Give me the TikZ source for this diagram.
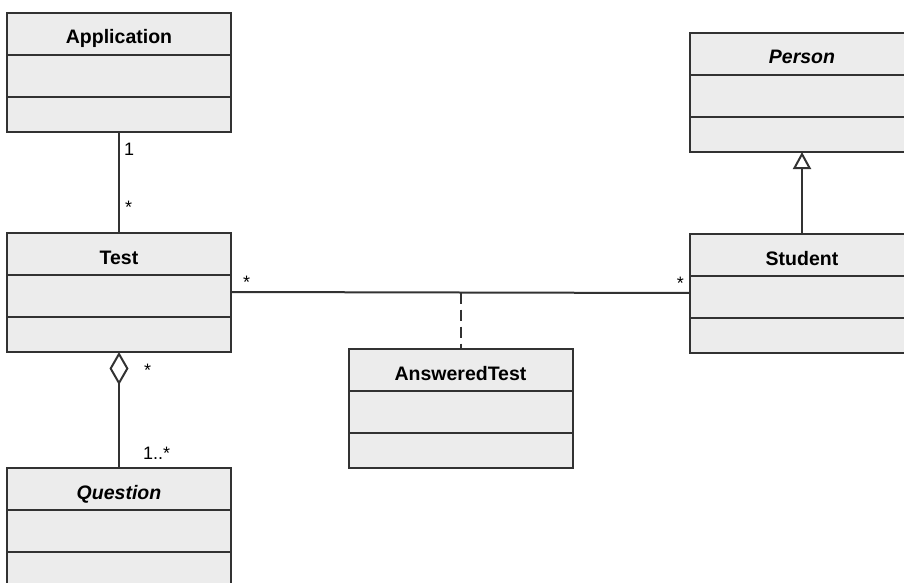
\documentclass[tikz,border=0pt]{standalone}
\usepackage{fontspec}
\setmainfont{Liberation Sans}
\usepackage{tikz}
\usetikzlibrary{arrows.meta}
\usetikzlibrary{positioning}
\definecolor{boxfill}{RGB}{236,236,236}
\definecolor{boxline}{RGB}{50,50,50}
\tikzstyle{classtitle}=[rectangle,draw=boxline,fill=boxfill,line width=2pt,outer sep=0pt,minimum width=224pt,minimum height=42pt,inner sep=0pt,text height=20pt,text depth=0pt,font=\fontsize{19.5}{20}\selectfont\bfseries]
\tikzstyle{classattr}=[rectangle,draw=boxline,fill=boxfill,line width=2pt,outer sep=0pt,minimum width=224pt,minimum height=42pt,inner sep=0pt]
\tikzstyle{classops}=[rectangle,draw=boxline,fill=boxfill,line width=2pt,outer sep=0pt,minimum width=224pt,minimum height=35pt,inner sep=0pt]
\tikzstyle{assoc} = [draw=boxline,line width=2pt]
\tikzstyle{mult} = [inner sep=0pt,font=\fontsize{18}{18}\selectfont]
\tikzset{aggr/.style={assoc,-{Diamond[open,length=33pt,width=19pt]}}}
\tikzset{gener/.style={assoc,-{Triangle[open,length=17pt,width=18pt]}}}

\begin{document}
\begin{tikzpicture}[x=1pt,y=1pt]

  \useasboundingbox (0,0) rectangle (904,-583);
  \clip (0,0) rectangle (904,-583);

   \foreach \x/\y/\name/\label in { 119/13/app/Application, 119/233/test/Test, 119/468/quest/{\itshape Question}, 802/33/person/{\itshape Person}, 802/234/student/Student, 460.5/349/ans/AnsweredTest}
   {
          \node[classtitle, anchor=north] (\name-t) at (\x, -\y) {\label};
          \node[classattr, anchor=north] (\name-a) at (\name-t.south) {};
          \node[classops, anchor=north] (\name-o) at (\name-a.south) {};
   }

  \path[assoc] (app-o.south) -- (test-t.north);
  \path[aggr] (quest-t.north) -- (test-o.south);
  \path[gener] (student-t.north) -- (person-o.south);
  \path[assoc] ([yshift=4pt]test-a.east) -- coordinate[midway] (answer) ([yshift=4pt]student-a.west);
  \path[assoc, dash pattern=on 11pt off 6pt] (answer) -- (ans-t.north);

%   multiplicities
  \node[mult, anchor=north west] (m1) at ([xshift=5pt,yshift=-11pt]app-o.south) {1};
  \node[mult, anchor=north west] (m2) at ([xshift=6pt,yshift=32pt]test-t.north) {*};
  \node[mult, anchor=north west] (m3) at ([xshift=12pt,yshift=20pt]test-a.east) {*};
  \node[mult, anchor=north east] (m4) at ([xshift=-6pt,yshift=20pt]student-a.west) {*};
  \node[mult, anchor=north west] (m5) at ([xshift=25pt,yshift=-12pt]test-o.south) {*};
  \node[mult, anchor=north west] (m6) at ([xshift=24pt,yshift=21pt]quest-t.north) {1..*};

\end{tikzpicture}
\end{document}
